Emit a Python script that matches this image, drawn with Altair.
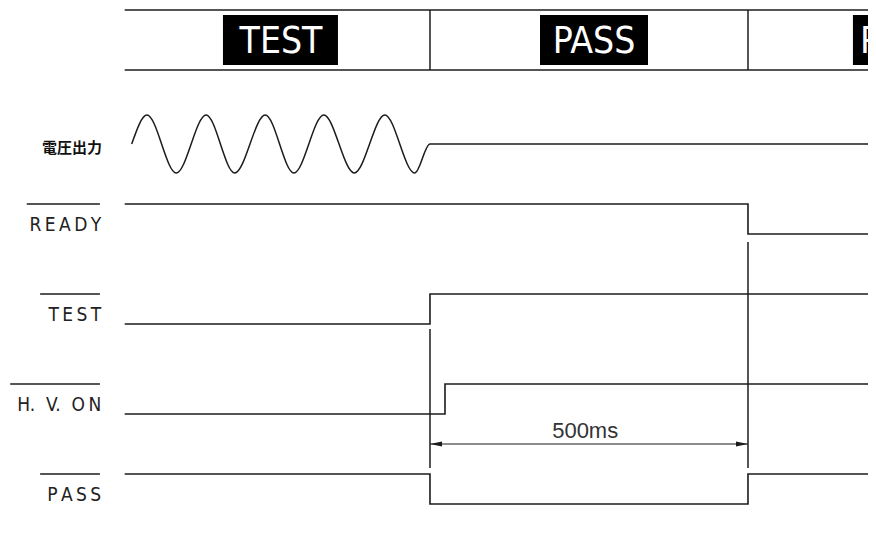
import altair as alt
import pandas as pd

# ---------------- values ----------------
# time axis in ms: 0 = start of judgement, 500 = end of PASS hold
T_START = -480.0
T_END = 705.0

# digital signals: breakpoints (ms) and logic level (1 = high line, 0 = low line)
ready_t = [T_START, 500, 500, T_END]
ready_lv = [1, 1, 0, 0]
test_t = [T_START, 0, 0, T_END]
test_lv = [0, 0, 1, 1]
hvon_t = [T_START, 23.6, 23.6, T_END]
hvon_lv = [0, 0, 1, 1]
pass_t = [T_START, 0, 0, 500, 500, T_END]
pass_lv = [1, 1, 0, 0, 1, 1]

# voltage output: extrema of the test voltage (ms) and normalised amplitude
volt_t = [-469, -445, -399, -352, -307, -259, -214, -167, -119, -71, -24, 0, T_END]
volt_a = [0, 1, -1, 1, -1, 1, -1, 1, -1, 1, -1, 0, 0]

# header states
state_names = ["TEST", "PASS", "PASS"]
state_box_t1 = [-325.5, 173.0, 665.0]
state_box_t2 = [-144.7, 342.8, 835.0]
state_text_t = [-234.3, 257.9, 741.0]
state_dividers = [0, 500]

# signal labels (overlined = active low)
labels = ["R\u2009E\u2009A\u2009D\u2009Y", "T\u2009E\u2009S\u2009T",
          "H.\u00a0\u00a0V.\u00a0\u00a0O\u2009N", "P\u2009A\u2009S\u2009S"]
overline_start = [-634, -613, -660, -613]
voltage_label = "電圧出力"

# timing markers and dimension
marker_t = [0, 500]
dim_t1, dim_t2 = 0, 500
dim_label = "500ms"
dim_label_t = 244

# ---------------- layout (vertical positions, page pixels) ----------------
HEADER_TOP, HEADER_BOT = 10, 70
BOX_TOP, BOX_BOT = 15, 65
ROW_HIGH = [204, 294, 384, 474]
SWING = 30
VOLT_CENTER, VOLT_AMP = 144, 29
LABEL_T = -517
MARKER_Y1 = [329, 242]
MARKER_Y2 = 468
DIM_Y = 444

INK = "#1c1c1c"
W, H = 860, 535

xs = alt.Scale(domain=[-663.5, 688.7], nice=False, zero=False)
ys = alt.Scale(domain=[8, 543], reverse=True, nice=False, zero=False)
X = lambda f: alt.X(f, type="quantitative", scale=xs, axis=None)
Y = lambda f: alt.Y(f, type="quantitative", scale=ys, axis=None)

# ---------------- tables ----------------
rows = []
for i, (ts, lv) in enumerate([(ready_t, ready_lv), (test_t, test_lv),
                              (hvon_t, hvon_lv), (pass_t, pass_lv)]):
    for k, (t, l) in enumerate(zip(ts, lv)):
        rows.append({"sig": i, "order": k, "t": t,
                     "y": ROW_HIGH[i] + (1 - l) * SWING})
sig_df = pd.DataFrame(rows)

volt_df = pd.DataFrame({"t": volt_t,
                        "y": [VOLT_CENTER - a * VOLT_AMP for a in volt_a]})

hline_df = pd.DataFrame({"t1": [T_START, T_START], "t2": [T_END, T_END],
                         "y": [HEADER_TOP, HEADER_BOT]})
hdiv_df = pd.DataFrame({"t": state_dividers,
                        "y1": [HEADER_TOP] * 2, "y2": [HEADER_BOT] * 2})
box_df = pd.DataFrame({"t1": state_box_t1, "t2": state_box_t2,
                       "y1": [BOX_TOP] * 3, "y2": [BOX_BOT] * 3})
state_df = pd.DataFrame({"t": state_text_t, "y": [53] * 3, "text": state_names})

lab_df = pd.DataFrame({"t": [LABEL_T] * 4, "text": labels,
                       "y": [r + 26.5 for r in ROW_HIGH]})
over_df = pd.DataFrame({"t1": overline_start, "t2": [-519] * 4, "y": ROW_HIGH})
vlab_df = pd.DataFrame({"t": [LABEL_T + 1.5], "y": [153], "text": [voltage_label]})

mark_df = pd.DataFrame({"t": marker_t, "y1": MARKER_Y1, "y2": [MARKER_Y2] * 2})
dim_df = pd.DataFrame({"t1": [dim_t1], "t2": [dim_t2], "y": [DIM_Y]})
arrow_l = pd.DataFrame({"t": [dim_t1], "y": [DIM_Y]})
arrow_r = pd.DataFrame({"t": [dim_t2], "y": [DIM_Y]})
dlab_df = pd.DataFrame({"t": [dim_label_t], "y": [438], "text": [dim_label]})

# ---------------- layers ----------------
signals = alt.Chart(sig_df).mark_line(color=INK, strokeWidth=1.6, clip=True).encode(
    x=X("t"), y=Y("y"), detail="sig:N", order="order:Q")
voltage = alt.Chart(volt_df).mark_line(color=INK, strokeWidth=1.5, clip=True,
                                       interpolate="monotone").encode(x=X("t"), y=Y("y"))
hlines = alt.Chart(hline_df).mark_rule(color=INK, strokeWidth=1.6, clip=True).encode(
    x=X("t1"), x2="t2", y=Y("y"))
hdivs = alt.Chart(hdiv_df).mark_rule(color=INK, strokeWidth=1.5).encode(
    x=X("t"), y=Y("y1"), y2="y2")
boxes = alt.Chart(box_df).mark_rect(color="#000000", clip=True).encode(
    x=X("t1"), x2="t2", y=Y("y1"), y2="y2")
states = alt.Chart(state_df).mark_text(
    color="white", font="DejaVu Sans Condensed, Liberation Sans Narrow, sans-serif",
    fontSize=37, align="center", baseline="alphabetic", clip=True).encode(
    x=X("t"), y=Y("y"), text="text:N")
labs = alt.Chart(lab_df).mark_text(
    color="#222222", font="DejaVu Sans Condensed, DejaVu Sans, sans-serif",
    fontSize=19, align="right", baseline="alphabetic").encode(
    x=X("t"), y=Y("y"), text="text:N")
overs = alt.Chart(over_df).mark_rule(color=INK, strokeWidth=1.3).encode(
    x=X("t1"), x2="t2", y=Y("y"))
vlab = alt.Chart(vlab_df).mark_text(
    color="#111111", font="Noto Sans CJK JP", fontWeight="bold",
    fontSize=15, align="right", baseline="alphabetic").encode(
    x=X("t"), y=Y("y"), text="text:N")
markers = alt.Chart(mark_df).mark_rule(color=INK, strokeWidth=1.5).encode(
    x=X("t"), y=Y("y1"), y2="y2")
dim = alt.Chart(dim_df).mark_rule(color=INK, strokeWidth=1.1).encode(
    x=X("t1"), x2="t2", y=Y("y"))
al = alt.Chart(arrow_l).mark_point(shape="M0,0L2,-0.4L2,0.4Z", filled=True,
                                   opacity=1, color=INK, size=144).encode(x=X("t"), y=Y("y"))
ar = alt.Chart(arrow_r).mark_point(shape="M0,0L-2,-0.4L-2,0.4Z", filled=True,
                                   opacity=1, color=INK, size=144).encode(x=X("t"), y=Y("y"))
dlab = alt.Chart(dlab_df).mark_text(
    color="#333333", font="Liberation Sans, Arial, sans-serif", fontSize=22,
    align="center", baseline="alphabetic").encode(x=X("t"), y=Y("y"), text="text:N")

chart = alt.layer(hlines, hdivs, boxes, states, voltage, signals, markers, dim, al, ar,
                  dlab, labs, overs, vlab).properties(
    width=W, height=H, padding=0,
    autosize=alt.AutoSizeParams(type="none"), background="white",
).configure_view(strokeWidth=0)

chart.save("out.html", embed_options={"renderer": "svg", "actions": False})
